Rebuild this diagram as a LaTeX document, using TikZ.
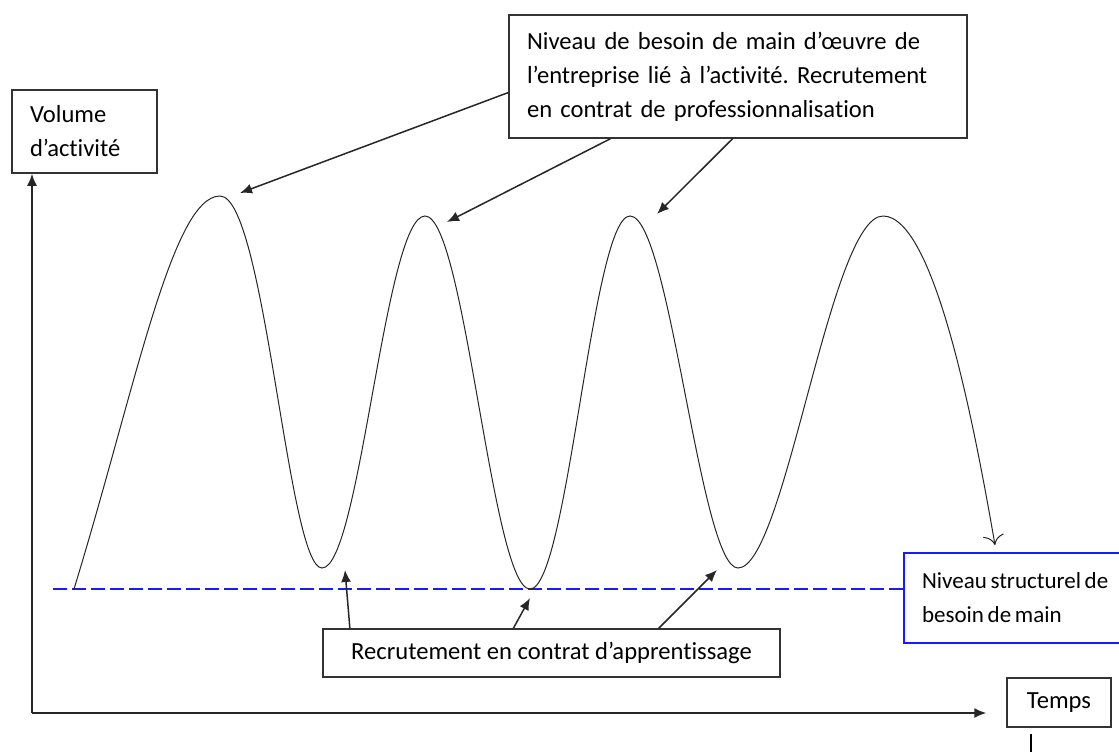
\documentclass[tikz,border=0pt]{standalone}
\usepackage{fontspec}
\setmainfont{Carlito}[Ligatures=NoCommon]
\usetikzlibrary{arrows.meta}
\frenchspacing
\newcommand{\tightspaces}{\spaceskip=0.16em plus 0.05em\relax}
\begin{document}
\begin{tikzpicture}
    %defining some styles
    [
        x=0.5pt, y=-0.5pt,
        box/.style={rectangle, draw=black!80, line width=0.75pt, fill=white, inner xsep=9pt, inner ysep=0pt, font=\fontsize{12.3}{17}\selectfont},
        bluebox/.style={box, draw=blue!90, font=\fontsize{11.5}{17}\selectfont},
        pointer/.style={-{Latex[length=6pt,width=5pt]}, line width=0.75pt, black!85},
        curve/.style={line width=0.5pt, black!85},
        base/.style={blue!90, line width=0.75pt, dash pattern=on 7pt off 2.5pt},
    ]
    \useasboundingbox (0,0) rectangle (1119,751);

    % boxes
    \node (top) at (738,76.5) [box, text width=211pt, minimum height=61.5pt, align=left]
        {Niveau de besoin de main d’œuvre de\\ l’entreprise lié à l’activité. Recrutement\\ en contrat de professionnalisation};
    \node (vol) at (84.5,131.5) [box, text width=54.5pt, minimum height=41.5pt, align=left] {Volume\\ d’activité};
    \node (struct) at (1022,598) [bluebox, text width=100pt, minimum height=45pt, align=left] {\tightspaces Niveau structurel de\\ besoin de main};
    \node (rec) at (551.5,653) [box, minimum width=228.5pt, minimum height=24pt] {Recrutement en contrat d’apprentissage};
    \node (temps) at (1059,702.5) [box, minimum width=52pt, minimum height=24.5pt, inner xsep=0pt] {Temps};

    % axes
    \coordinate (o) at (32,713);
    \draw[pointer] (o) -- (o |- vol.south);
    \draw[pointer] (o) -- ([xshift=-10pt]temps.west |- o);
    \draw[line width=1pt] ([shift={(-14pt,-3pt)}]temps.south) -- ++(0,20);

    % structural level
    \coordinate (d0) at (53,589);
    \draw[base] (d0) -- (d0 -| struct.west);

    % activity curve
    \coordinate (c0) at (74,589);
    \coordinate (p1) at (220,196);
    \coordinate (t1) at (322,568);
    \coordinate (p2) at (425,216);
    \coordinate (t2) at (530,589);
    \coordinate (p3) at (630,216);
    \coordinate (t3) at (738,568);
    \coordinate (p4) at (883,216);
    \coordinate (c5) at (995,545);
    \draw[curve, -{To[length=5pt]}] (c0) .. controls (135,390) and (172,196) .. (p1)
        .. controls (265,196) and (288,568) .. (t1)
        .. controls (360,568) and (385,216) .. (p2)
        .. controls (465,216) and (492,589) .. (t2)
        .. controls (568,589) and (592,216) .. (p3)
        .. controls (670,216) and (700,568) .. (t3)
        .. controls (785,568) and (830,216) .. (p4)
        .. controls (935,216) and (975,430) .. (c5);

    % arrow ends
    \coordinate (h1) at (240,193);
    \coordinate (h2) at (447,222);
    \coordinate (h3) at (657,214);
    \coordinate (l1) at (345,570);
    \coordinate (l2) at (530,598);
    \coordinate (l3) at (717,570);

    \draw[pointer] (top.184) -- (h1);
    \draw[pointer] (top.206) -- (h2);
    \draw[pointer] (top.265) -- (h3);
    \draw[pointer] (rec.173) -- (l1);
    \draw[pointer] (rec.147) -- (l2);
    \draw[pointer] (rec.13) -- (l3);
\end{tikzpicture}
\end{document}
